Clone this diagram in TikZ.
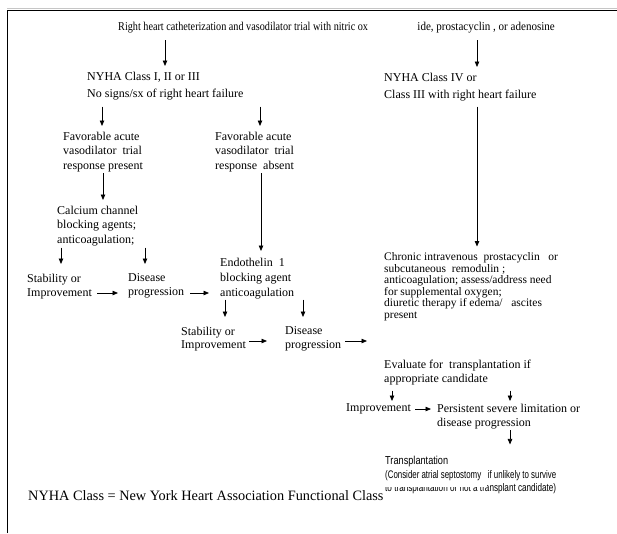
\documentclass[tikz,border=0pt]{standalone}
\usepackage{fontspec}
\usepackage{graphicx}
\setmainfont{Liberation Serif}
\newfontfamily\arialfont{Liberation Sans}
\usetikzlibrary{arrows.meta}
\begin{document}
\begin{tikzpicture}[x=1pt,y=-1pt,
  txt/.style={anchor=north west,inner sep=0pt,align=left,font=\fontsize{12}{14.5}\selectfont},
  one/.style={anchor=west,inner sep=0pt,font=\fontsize{12}{14.5}\selectfont},
  sans/.style={anchor=west,inner sep=0pt,font=\arialfont\fontsize{11.5}{13}\selectfont},
  arr/.style={line width=0.75pt,-{Triangle[length=5.5pt,width=4.5pt]}},
  frame/.style={line width=1.3pt}]
\useasboundingbox (0,0) rectangle (617,533);
\draw[gray!45,line width=0.8pt] (7,8.6) -- (617,8.6);
\draw[frame] (7.5,533) -- (7.5,10.5) -- (617,10.5);

% texts
\node[one] (title) at (118,28) {\scalebox{0.85}[1]{Right heart catheterization and vasodilator trial with nitric ox}};
\node[one,anchor=east] (title2) at (555,28) {\scalebox{0.92}[1]{ide, prostacyclin , or adenosine}};
\node[txt,font=\fontsize{12}{17}\selectfont] (nyhaL) at (87,71.5) {NYHA Class I, II or III\\No signs/sx of right heart failure};
\node[txt,font=\fontsize{12}{17}\selectfont] (nyhaR) at (384,72.5) {NYHA Class IV or\\Class III with right heart failure};
\node[txt] (favP) at (63,131.5) {Favorable acute\\vasodilator\ \ trial\\response present};
\node[txt] (favA) at (215,131.5) {Favorable acute\\vasodilator\ \ trial\\response\ \ absent};
\node[txt] (calc) at (57,205.5) {Calcium channel\\blocking agents;\\anticoagulation;};
\node[txt,font=\fontsize{12}{14}\selectfont] (stabL) at (27,273.5) {Stability or\\Improvement};
\node[txt,font=\fontsize{12}{14}\selectfont] (disL) at (128,273.5) {Disease\\progression};
\node[txt,font=\fontsize{12}{15}\selectfont] (endo) at (220,257.5) {Endothelin\ \ 1\\blocking agent\\anticoagulation};
\node[txt,font=\fontsize{12}{13.5}\selectfont] (stabM) at (181,326.5) {Stability or\\Improvement};
\node[txt,font=\fontsize{12}{13.5}\selectfont] (disM) at (285,326.5) {Disease\\progression};
\node[txt,font=\fontsize{11.5}{11.5}\selectfont] (chron) at (384,252.5) {Chronic intravenous\ \ prostacyclin\ \ \ or\\subcutaneous\ \ remodulin ;\\anticoagulation; assess/address need\\for supplemental oxygen;\\diuretic therapy if edema/\ \ \ ascites\\present};
\node[txt,font=\fontsize{12}{14}\selectfont] (eval) at (384,359.5) {Evaluate for\ \ transplantation if\\appropriate candidate};
\node[one] (impr) at (346,409) {Improvement};
\node[txt,font=\fontsize{12}{14}\selectfont] (pers) at (437,403.5) {Persistent severe\ limitation or\\disease progression};
\node[sans] (trans) at (385,462) {\resizebox{63pt}{\height}{Transplantation}};
\node[sans,font=\arialfont\fontsize{11}{13}\selectfont] (cons) at (385,476) {\resizebox{171pt}{\height}{(Consider atrial septostomy\ \ \ if unlikely to survive}};
\begin{scope}
\clip (380,487) rectangle (487,497) (487,478) rectangle (565,497);
\node[sans,font=\arialfont\fontsize{11}{13}\selectfont] (tnote) at (385,488.5) {\resizebox{171pt}{\height}{to transplantation or not a transplant candidate)}};
\end{scope}
\node[one,font=\fontsize{14.3}{16}\selectfont] (foot) at (28,496) {NYHA Class = New York Heart Association Functional Class};

% connectors
\draw[arr,shorten <=6.6pt,shorten >=5.5pt] (title.south -| 165,0) -- (nyhaL.north -| 165,0);
\draw[arr,shorten <=6.6pt,shorten >=5.5pt] (title2.south -| 477,0) -- (nyhaR.north -| 477,0);
\draw[arr,shorten <=6.7pt,shorten >=5.5pt] (nyhaL.south -| 102,0) -- (favP.north -| 102,0);
\draw[arr,shorten <=6.7pt,shorten >=5.5pt] (nyhaL.south -| 260,0) -- (favA.north -| 260,0);
\draw[arr,shorten <=5.7pt,shorten >=6pt] (nyhaR.south -| 477,0) -- (chron.north -| 477,0);
\draw[arr,shorten <=1.7pt,shorten >=5.5pt] (favP.south -| 103,0) -- (calc.north -| 103,0);
\draw[arr,shorten <=1.7pt,shorten >=6.5pt] (favA.south -| 261,0) -- (endo.north -| 261,0);
\draw[arr,shorten <=1.7pt,shorten >=9.5pt] (calc.south -| 61,0) -- (stabL.north -| 61,0);
\draw[arr,shorten <=1.7pt,shorten >=9.5pt] (calc.south -| 145,0) -- (disL.north -| 145,0);
\draw[arr,shorten <=5pt,shorten >=10pt] (stabL.east |- 0,293) -- (disL.west |- 0,293);
\draw[arr,shorten <=6pt,shorten >=11pt] (disL.east |- 0,293) -- (endo.west |- 0,293);
\draw[arr,shorten <=0.7pt,shorten >=9.5pt] (endo.south -| 225,0) -- (stabM.north -| 225,0);
\draw[arr,shorten <=0.7pt,shorten >=9.5pt] (endo.south -| 303,0) -- (disM.north -| 303,0);
\draw[arr,shorten <=3pt,shorten >=18pt] (stabM.east |- 0,341) -- (disM.west |- 0,341);
\draw[arr,shorten <=4pt,shorten >=17pt] (disM.east |- 0,341) -- (eval.west |- 0,341);
\draw[arr,shorten <=5.7pt,shorten >=2.6pt] (eval.south -| 392,0) -- (impr.north -| 392,0);
\draw[arr,shorten <=5.7pt,shorten >=2.5pt] (eval.south -| 510,0) -- (pers.north -| 510,0);
\draw[arr,shorten <=4pt,shorten >=6pt] (impr.east) -- (pers.west |- impr.east);
\draw[arr,shorten <=1.5pt,shorten >=12pt] (pers.south -| 510,0) -- (trans.north -| 510,0);
\end{tikzpicture}
\end{document}
